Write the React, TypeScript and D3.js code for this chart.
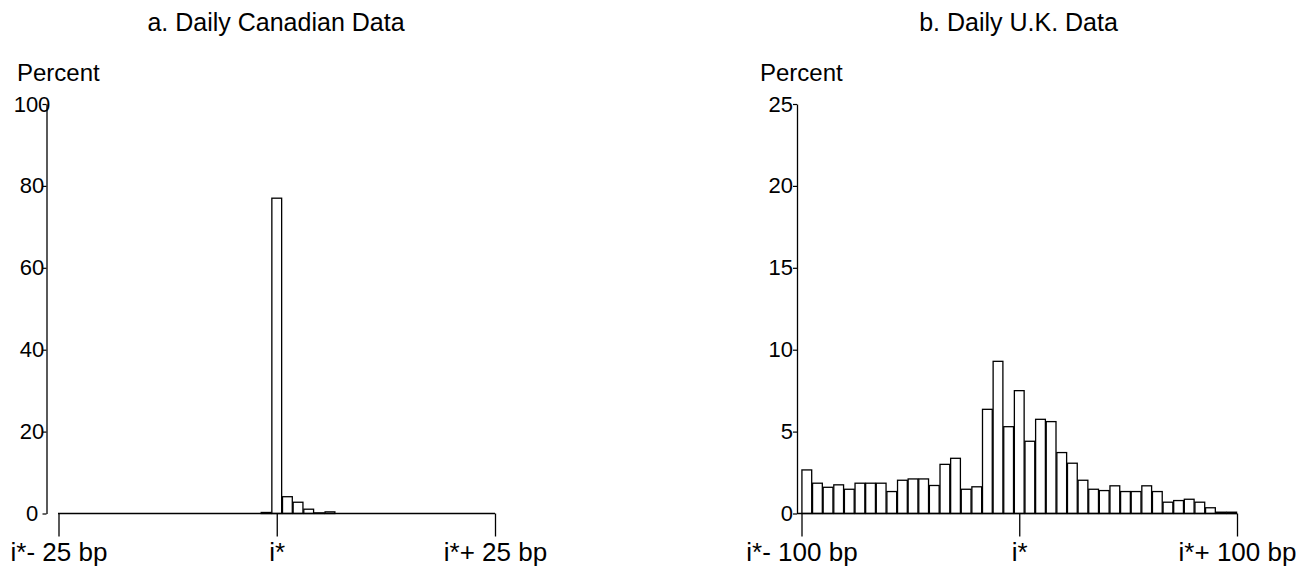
import React, { useEffect, useRef } from "react";
import * as d3 from "d3";

const canadaValues = [
  0, 0, 0, 0, 0, 0, 0, 0, 0, 0, 0, 0, 0, 0, 0, 0, 0, 0, 0, 0.25,
  77, 4.1, 2.75, 1.05, 0.15, 0.4, 0, 0, 0, 0, 0, 0, 0, 0, 0, 0, 0, 0, 0, 0, 0,
];
const ukValues = [
  2.66, 1.85, 1.6, 1.75, 1.48, 1.85, 1.85, 1.85, 1.34, 2.03, 2.11, 2.11, 1.71,
  3.0, 3.37, 1.48, 1.63, 6.36, 9.29, 5.3, 7.5, 4.41, 5.75, 5.61, 3.72, 3.07,
  2.03, 1.48, 1.4, 1.69, 1.34, 1.34, 1.69, 1.34, 0.69, 0.79, 0.87, 0.69, 0.35,
  0.08, 0.08,
];

const canadaYTicks = [0, 20, 40, 60, 80, 100];
const ukYTicks = [0, 5, 10, 15, 20, 25];
const canadaXTicks = [-25, 0, 25];
const ukXTicks = [-100, 0, 100];
const canadaXLabels = ["i*- 25 bp", "i*", "i*+ 25 bp"];
const ukXLabels = ["i*- 100 bp", "i*", "i*+ 100 bp"];

const FONT = "'Liberation Sans', Arial, sans-serif";

export default function App() {
  const ref = useRef<SVGSVGElement>(null);

  useEffect(() => {
    const svg = d3.select(ref.current);
    svg.selectAll("*").remove();

    const panels = [
      {
        title: "a. Daily Canadian Data",
        titleX: 276,
        percentX: 17,
        values: canadaValues,
        yMax: 100,
        yTicks: canadaYTicks,
        xTicks: canadaXTicks,
        xLabels: canadaXLabels,
        yAxisX: 46.5,
        baseStart: 58,
        xRange: [58.5, 495],
        labelAnchor: "middle",
        labelX: 32,
      },
      {
        title: "b. Daily U.K. Data",
        titleX: 1018.5,
        percentX: 760,
        values: ukValues,
        yMax: 25,
        yTicks: ukYTicks,
        xTicks: ukXTicks,
        xLabels: ukXLabels,
        yAxisX: 797,
        baseStart: 797,
        xRange: [801.5, 1237],
        labelAnchor: "end",
        labelX: 793,
      },
    ];

    const y0 = 513.5;
    const yTop = 104;

    panels.forEach((p) => {
      const g = svg.append("g");

      const y = d3.scaleLinear().domain([0, p.yMax]).range([y0, yTop]);
      const xBand = d3
        .scaleBand<number>()
        .domain(p.values.map((_, i) => i))
        .range(p.xRange as [number, number])
        .paddingInner(0.08)
        .paddingOuter(0.04);
      const xLin = d3
        .scaleLinear()
        .domain([p.xTicks[0], p.xTicks[p.xTicks.length - 1]])
        .range(p.xRange as [number, number]);

      // titles
      g.append("text")
        .attr("x", p.titleX)
        .attr("y", 31)
        .attr("text-anchor", "middle")
        .attr("font-size", 25)
        .text(p.title);
      g.append("text")
        .attr("x", p.percentX)
        .attr("y", 81)
        .attr("font-size", 24)
        .text("Percent");

      // bars (empty bins are not drawn)
      g.selectAll("rect.bar")
        .data(p.values.map((v, i) => ({ v, i })).filter((d) => d.v > 0))
        .enter()
        .append("rect")
        .attr("class", "bar")
        .attr("x", (d) => xBand(d.i)!)
        .attr("y", (d) => y(d.v))
        .attr("width", xBand.bandwidth())
        .attr("height", (d) => y0 - y(d.v))
        .attr("fill", "#fff")
        .attr("stroke", "#000")
        .attr("stroke-width", 1.3);

      // y axis
      const yAxis = d3
        .axisLeft(y)
        .tickValues(p.yTicks)
        .tickSize(4)
        .tickSizeOuter(0)
        .tickPadding(4);
      const ya = g
        .append("g")
        .attr("transform", `translate(${p.yAxisX},0)`)
        .call(yAxis);
      ya.select(".domain").attr("stroke-width", 1.3);
      ya.selectAll(".tick line").attr("stroke-width", 1.2);
      ya.selectAll(".tick text")
        .attr("font-size", 22)
        .attr("font-family", FONT)
        .attr("fill", "#000")
        .attr("text-anchor", p.labelAnchor)
        .attr("x", p.labelX - p.yAxisX);

      // x axis
      g.append("line")
        .attr("x1", p.baseStart)
        .attr("x2", p.xRange[1])
        .attr("y1", y0)
        .attr("y2", y0)
        .attr("stroke", "#000")
        .attr("stroke-width", 1.5);
      const xAxis = d3
        .axisBottom(xLin)
        .tickValues(p.xTicks)
        .tickFormat((_, i) => p.xLabels[i])
        .tickSize(23)
        .tickSizeOuter(0)
        .tickPadding(6);
      const xa = g
        .append("g")
        .attr("transform", `translate(0,${y0})`)
        .call(xAxis);
      xa.select(".domain").remove();
      xa.selectAll(".tick line").attr("stroke-width", 1.3);
      xa.selectAll(".tick text")
        .attr("font-size", 26)
        .attr("font-family", FONT)
        .attr("fill", "#000");
    });
  }, []);

  return (
    <svg
      ref={ref}
      width={1314}
      height={574}
      style={{
        position: "absolute",
        left: 0,
        top: 0,
        background: "#fff",
        fontFamily: FONT,
      }}
    />
  );
}
